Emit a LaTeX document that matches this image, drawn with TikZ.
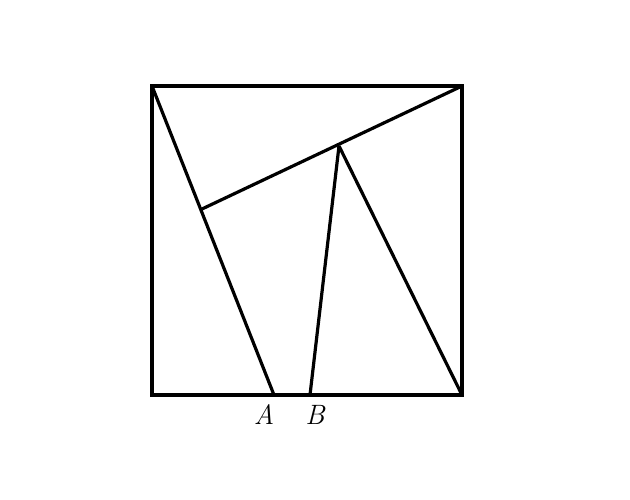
\documentclass[tikz,border=0pt]{standalone}
\begin{document}
\begin{tikzpicture}[x=1pt,y=-1pt,
  edge/.style={line width=3.2pt,line join=miter,line cap=rect},
  lbl/.style={font=\fontsize{28}{32}\selectfont\itshape,inner sep=0pt}]
\useasboundingbox (0,0) rectangle (630,500);
\coordinate (TL) at (152,86);
\coordinate (TR) at (462,86);
\coordinate (BR) at (462,395);
\coordinate (BL) at (152,395);
\coordinate (A) at (274,395);
\coordinate (B) at (310,395);
\coordinate (F) at (202,209);
\coordinate (P) at (339,146);
\draw[edge] (TL) -- (TR) -- (BR) -- (BL) -- cycle;
\draw[edge,line cap=butt] (TL) -- (A);
\draw[edge,line cap=butt] (TR) -- (F);
\draw[edge,line cap=butt] (P) -- (B);
\draw[edge,line cap=butt] (P) -- (BR);
\node[lbl] (la) at (264,415) {A};
\node[lbl] (lb) at (315,415) {B};
\end{tikzpicture}
\end{document}
